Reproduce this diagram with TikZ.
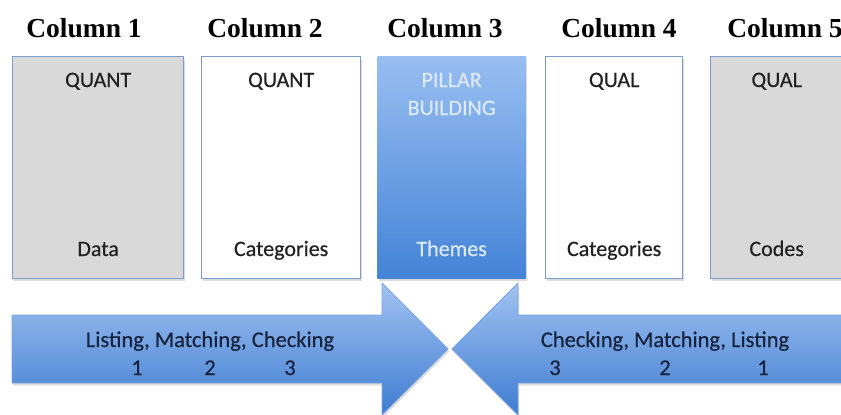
\documentclass[tikz,border=0pt]{standalone}
\usepackage{fontspec}
\setmainfont{Liberation Serif}
\newfontfamily\carlito[FakeBold=0.5]{Carlito}
\usetikzlibrary{shadows}

\definecolor{boxgray}{HTML}{D9D9D9}
\definecolor{boxedge}{HTML}{7C9CCB}
\definecolor{pillartop}{HTML}{98BEF1}
\definecolor{pillarbot}{HTML}{4483D7}
\definecolor{arrowtop}{HTML}{A2C3F2}
\definecolor{arrowbot}{HTML}{3E7CD1}
\definecolor{arrowedge}{HTML}{7AA5E3}
\definecolor{boxtext}{HTML}{222222}
\definecolor{arrowtext}{HTML}{18243F}
\definecolor{pillartext}{HTML}{DCE9FB}

\begin{document}
\begin{tikzpicture}[x=1pt,y=-1pt,
  header/.style={font=\fontsize{27.5}{30}\selectfont\bfseries, anchor=base, inner sep=0pt},
  column/.style={draw=boxedge, line width=1.3pt, anchor=north west, inner sep=0pt,
    minimum height=222pt,
    drop shadow={opacity=0.28, shadow xshift=1pt, shadow yshift=-2.5pt}},
  boxlabel/.style={font=\carlito\fontsize{22}{28}\selectfont, text=boxtext, anchor=base, inner sep=0pt},
  pillarlabel/.style={boxlabel, text=pillartext},
  flowlabel/.style={font=\carlito\fontsize{22.5}{28}\selectfont, text=arrowtext, anchor=base, inner sep=0pt},
  flowarrow/.style={top color=arrowtop, bottom color=arrowbot, draw=arrowedge, line width=0.8pt,
    drop shadow={opacity=0.25, shadow xshift=1pt, shadow yshift=-2.5pt}},
]
\clip (0,0) rectangle (841,415);
\fill[white] (0,0) rectangle (841,415);

% column headings
\node[header] (h1) at (84,37)  {Column 1};
\node[header] (h2) at (265,37) {Column 2};
\node[header] (h3) at (445,37) {Column 3};
\node[header] (h4) at (619,37) {Column 4};
\node[header] (h5) at (785,37) {Column 5};

% the five columns
\node[column, fill=boxgray, minimum width=171pt] (b1) at (12,56) {};
\node[column, fill=white,   minimum width=159pt] (b2) at (201,56) {};
\node[column, draw=none, top color=pillartop, bottom color=pillarbot, minimum width=148pt] (b3) at (377,56) {};
\node[column, fill=white,   minimum width=137pt] (b4) at (545,56) {};
\node[column, fill=boxgray, minimum width=132pt] (b5) at (710,56) {};

% column labels
\node[boxlabel] (t1) at (b1.center |- 0,87) {QUANT};
\node[boxlabel] (t2) at (b2.center |- 0,87) {QUANT};
\node[pillarlabel] (t3a) at (b3.center |- 0,87) {PILLAR};
\node[pillarlabel] (t3b) at (b3.center |- 0,115) {BUILDING};
\node[boxlabel] (t4) at (b4.center |- 0,87) {QUAL};
\node[boxlabel] (t5) at (b5.center |- 0,87) {QUAL};

\node[boxlabel] (u1) at (b1.center |- 0,256) {Data};
\node[boxlabel] (u2) at (b2.center |- 0,256) {Categories};
\node[pillarlabel] (u3) at (b3.center |- 0,256) {Themes};
\node[boxlabel] (u4) at (b4.center |- 0,256) {Categories};
\node[boxlabel] (u5) at (b5.center |- 0,256) {Codes};

% the two opposing arrows meeting under the pillar
\path[flowarrow] (12,315) -- (382,315) -- (382,283) -- (448,349)
  -- (382,415) -- (382,383) -- (12,383) -- cycle;
\path[flowarrow] (870,315) -- (518,315) -- (518,283) -- (452,349)
  -- (518,415) -- (518,383) -- (870,383) -- cycle;

% left arrow text
\node[flowlabel] (la) at (210,347) {Listing, Matching, Checking};
\node[flowlabel] (l1) at (137,375) {1};
\node[flowlabel] (l2) at (210,375) {2};
\node[flowlabel] (l3) at (290,375) {3};

% right arrow text
\node[flowlabel] (ra) at (665,347) {Checking, Matching, Listing};
\node[flowlabel] (r3) at (555,375) {3};
\node[flowlabel] (r2) at (665,375) {2};
\node[flowlabel] (r1) at (763,375) {1};
\end{tikzpicture}
\end{document}
